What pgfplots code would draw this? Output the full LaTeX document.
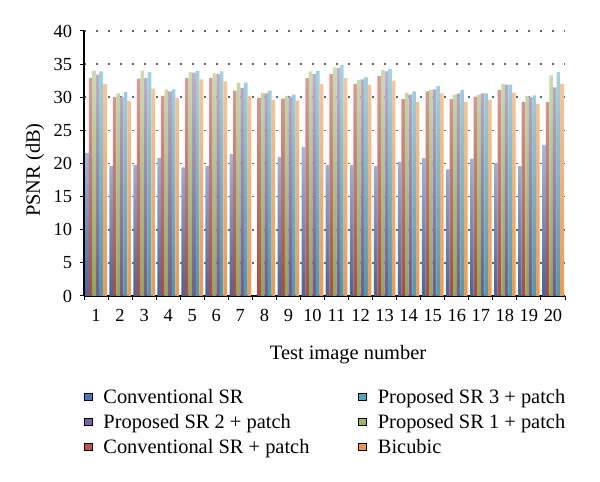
\documentclass[border=0pt]{standalone}
\usepackage{pgfplots}
\usepackage{pgfplotstable}
\pgfplotsset{compat=1.18}
\usepackage{fontspec}
\setmainfont{Liberation Serif}

\definecolor{cblue}{HTML}{4A78BE}
\definecolor{cred}{HTML}{C0504D}
\definecolor{cgreen}{HTML}{9BBB59}
\definecolor{cpurple}{HTML}{8064A2}
\definecolor{ccyan}{HTML}{4BACC6}
\definecolor{corange}{HTML}{F79646}

\pgfplotstableread{
x   cs    csp   p1    p2    p3    bic
1   21.6  32.9  34.0  33.4  33.9  32.0
2   19.6  30.0  30.6  30.0  30.8  29.4
3   19.8  32.8  34.0  32.9  33.8  31.3
4   20.8  30.2  31.2  30.9  31.2  29.9
5   19.4  32.9  33.8  33.7  34.0  32.7
6   19.6  32.9  33.6  33.5  33.9  32.4
7   21.4  31.0  32.2  31.4  32.2  30.2
8   nan   29.9  30.7  30.6  31.0  29.6
9   21.0  29.8  30.2  30.1  30.4  29.5
10  22.5  32.9  33.9  33.5  34.0  32.0
11  19.8  33.5  34.5  34.4  34.9  32.9
12  19.8  32.0  32.6  32.7  33.0  31.9
13  19.6  33.2  34.1  33.9  34.3  32.5
14  20.3  29.7  30.7  30.4  30.9  29.3
15  20.8  30.9  31.1  31.2  31.7  30.6
16  19.1  29.7  30.4  30.6  31.1  29.3
17  20.7  30.1  30.4  30.6  30.6  29.6
18  20.1  31.1  32.0  31.9  31.9  30.7
19  19.6  29.3  30.2  30.0  30.3  29.0
20  22.8  29.3  33.3  31.5  33.8  32.0
}\data

\begin{document}
\begin{tikzpicture}
\begin{axis}[
  at={(84bp,186bp)}, anchor=south west,
  scale only axis, width=481bp, height=265bp,
  xmin=0.5, xmax=20.5, ymin=0, ymax=40,
  axis x line*=bottom, axis y line*=left,
  axis line style={line width=1.2bp, black},
  tick align=outside,
  xtick={1,...,20}, major x tick style={draw=none},
  minor xtick={0.5,1.5,...,20.5},
  minor x tick style={line width=1bp, black},
  minor tick length=4bp,
  ytick={0,5,...,40}, major tick length=4bp,
  y tick style={line width=1bp, black},
  ymajorgrids,
  y grid style={black!60, line width=1.6bp, dash pattern=on 1.6bp off 10.4bp},
  /pgf/number format/assume math mode=true,
  tick label style={font=\fontsize{18.5}{22}\selectfont},
  xticklabel style={yshift=-6bp},
  yticklabel style={xshift=-4.5bp},
  ylabel={PSNR (dB)},
  ylabel style={at={(axis description cs:-0.1019,0.475)}, anchor=center, font=\fontsize{20.5}{24}\selectfont},
  xlabel={Test image number},
  xlabel style={at={(axis description cs:0.549,-0.2208)}, anchor=center, font=\fontsize{20.5}{24}\selectfont},
  legend image code/.code={\fill[#1] (0bp,-3.5bp) rectangle (8bp,3.5bp);},
  legend cell align=left,
  legend style={at={(axis description cs:0,-0.352)}, anchor=north west,
    draw=none, fill=none, inner sep=0pt, outer sep=0pt,
    legend columns=2, font=\fontsize{20.5}{24}\selectfont,
    row sep=9.2bp,
    nodes={inner sep=0pt},
    /tikz/every odd column/.append style={column sep=11bp},
    /tikz/every even column/.append style={column sep=49bp}},
]
\addplot[ybar, bar width=3.6bp, bar shift=-9bp, draw=none, top color=cblue!50!white, bottom color=cblue!85!black, forget plot] table[x=x,y=cs]{\data};
\addplot[ybar, bar width=3.6bp, bar shift=-5.4bp, draw=none, top color=cred!55!white, bottom color=cred!90!black, forget plot] table[x=x,y=csp]{\data};
\addplot[ybar, bar width=3.6bp, bar shift=-1.8bp, draw=none, top color=cgreen!50!white, bottom color=cgreen!90!black, forget plot] table[x=x,y=p1]{\data};
\addplot[ybar, bar width=3.6bp, bar shift=1.8bp, draw=none, top color=cpurple!50!white, bottom color=cpurple!90!black, forget plot] table[x=x,y=p2]{\data};
\addplot[ybar, bar width=3.6bp, bar shift=5.4bp, draw=none, top color=ccyan!50!white, bottom color=ccyan!90!black, forget plot] table[x=x,y=p3]{\data};
\addplot[ybar, bar width=3.6bp, bar shift=9bp, draw=none, top color=corange!55!white, bottom color=corange, forget plot] table[x=x,y=bic]{\data};

\addlegendimage{fill=cblue}\addlegendentry{Conventional SR}
\addlegendimage{fill=ccyan}\addlegendentry{Proposed SR 3 + patch}
\addlegendimage{fill=cpurple}\addlegendentry{Proposed SR 2 + patch}
\addlegendimage{fill=cgreen}\addlegendentry{Proposed SR 1 + patch}
\addlegendimage{fill=cred}\addlegendentry{Conventional SR + patch}
\addlegendimage{fill=corange}\addlegendentry{Bicubic}
\end{axis}
\pgfresetboundingbox
\path[use as bounding box] (0,0) rectangle (600bp,482bp);
\end{tikzpicture}
\end{document}
